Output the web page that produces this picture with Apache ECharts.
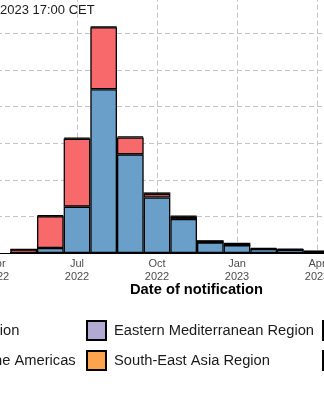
<!DOCTYPE html>
<html><head><meta charset="utf-8">
<script src="https://cdn.jsdelivr.net/npm/echarts@6/dist/echarts.min.js"></script>
<style>html,body{margin:0;padding:0;background:#fff}#c{width:324px;height:400px}</style>
</head><body><div id="c"></div>
<script>
// months counted from Jan 2022 (0 = Jan 2022)
const monthIndex = [4, 5, 6, 7, 8, 9, 10, 11, 12, 13, 14, 15];
const monthNames = ['Jan','Feb','Mar','Apr','May','Jun','Jul','Aug','Sep','Oct','Nov','Dec'];
const african        = [0, 0, 0, 0, 0, 0, 0, 0, 0, 0, 0, 0];
const easternMed     = [0, 0, 0, 0, 0, 0, 0, 0, 0, 0, 0, 0];
const southEastAsia  = [0, 0, 0, 0, 0, 0, 0, 0, 0, 0, 0, 0];
const americas       = [0, 680, 6330, 22360, 13480, 7580, 4650, 1450, 1050, 550, 450, 150];
const european       = [480, 4350, 9300, 8480, 2300, 500, 350, 0, 0, 0, 0, 0];
const westernPacific = [0, 120, 150, 100, 150, 200, 100, 300, 350, 150, 130, 200];
const titleText = '2023 17:00 CET';
const xTitle = 'Date of notification';

const FONT = 'Liberation Sans, Arial, sans-serif';
const chart = echarts.init(document.getElementById('c'));
// value first so that the stack is computed on the y dimension
function pairs(arr) { return monthIndex.map((m, i) => [arr[i], m]); }
function barSeries(name, arr, color) {
  return {
    name, type: 'bar', stack: 'total', data: pairs(arr), barWidth: 26.67,
    encode: { x: 1, y: 0 },
    itemStyle: { color, borderColor: '#000', borderWidth: 1.3 },
    emphasis: { disabled: true }, animation: false
  };
}
const legendText = { fontFamily: FONT, fontSize: 14.7, color: '#1a1a1a', padding: [0, 0, 0, 3] };
function legend(data, left) {
  return {
    data, left, top: 320, orient: 'vertical', padding: 0, itemGap: 9,
    itemWidth: 19, itemHeight: 19, icon: 'rect', selectedMode: false,
    textStyle: legendText
  };
}
chart.setOption({
  animation: false,
  backgroundColor: '#fff',
  title: [
    { text: titleText, left: 0, top: 4, padding: 0,
      textStyle: { fontFamily: FONT, fontSize: 13, fontWeight: 'normal', color: '#1a1a1a' } },
    { text: xTitle, left: 196.5, top: 282, padding: 0, textAlign: 'center',
      textStyle: { fontFamily: FONT, fontSize: 14.7, fontWeight: 'bold', color: '#000' } }
  ],
  legend: [
    legend(['African Region', 'Region of the Americas'], -105),
    legend(['Eastern Mediterranean Region', 'South-East Asia Region'], 86),
    legend(['European Region', 'Western Pacific Region'], 322)
  ],
  grid: { left: -83, right: -73, top: -3.2, bottom: 147, containLabel: false, outerBoundsMode: 'none' },
  xAxis: {
    type: 'value', min: 0, max: 18, interval: 3,
    axisLine: { show: true, lineStyle: { color: '#000', width: 1.2 } },
    axisTick: { show: false },
    axisLabel: {
      margin: 5, fontFamily: FONT, fontSize: 11, lineHeight: 12.5, color: '#4d4d4d',
      formatter: v => monthNames[v % 12] + '\n' + (2022 + Math.floor(v / 12))
    },
    splitLine: { show: true, lineStyle: { color: '#c4c4c4', type: [5, 3], width: 1 } }
  },
  yAxis: {
    type: 'value', min: 0, max: 35000, interval: 5000,
    axisLine: { show: false }, axisTick: { show: false },
    axisLabel: { show: false },
    splitLine: { show: true, lineStyle: { color: '#c4c4c4', type: [5, 3], width: 1 } }
  },
  series: [
    barSeries('African Region', african, '#7fc97f'),
    barSeries('Eastern Mediterranean Region', easternMed, '#b3a9d3'),
    barSeries('South-East Asia Region', southEastAsia, '#fca34e'),
    barSeries('Region of the Americas', americas, '#6a9fca'),
    barSeries('European Region', european, '#f8696b'),
    barSeries('Western Pacific Region', westernPacific, '#5c3a1e')
  ]
});
</script></body></html>
